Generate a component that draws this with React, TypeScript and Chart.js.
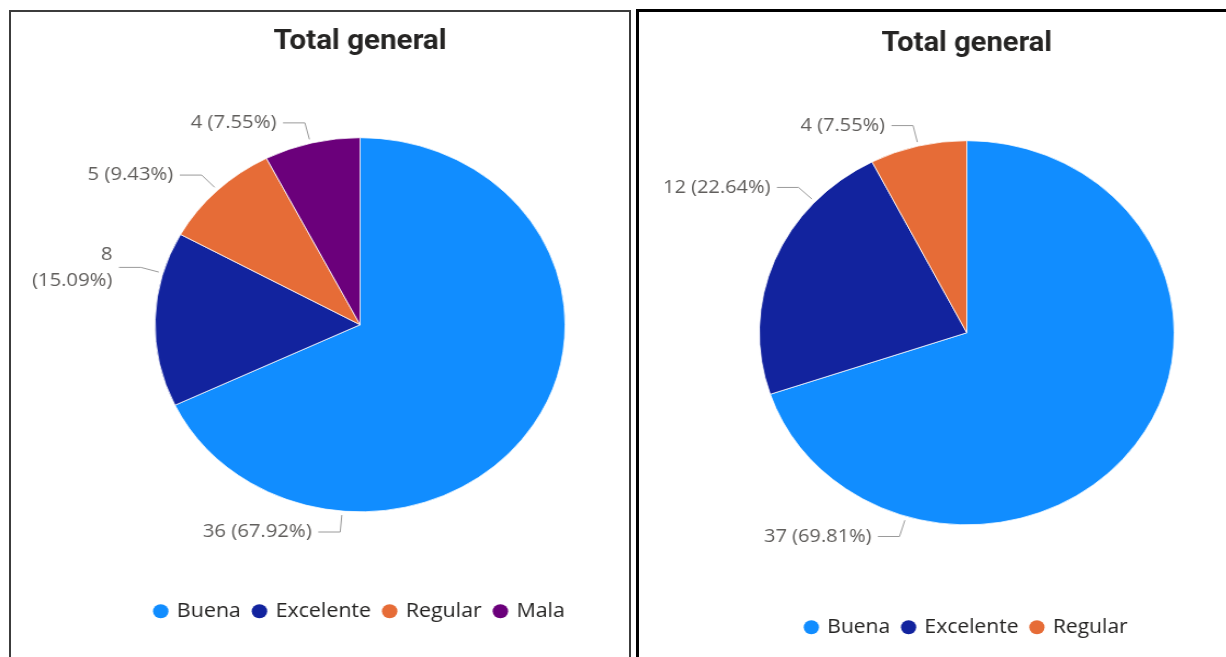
import React, { useEffect, useRef } from 'react';
import { Chart, registerables } from 'chart.js';

Chart.register(...registerables);

// ---------- data ----------
const CHART_TITLE = 'Total general';
const LEFT_CATEGORIES = ['Buena', 'Excelente', 'Regular', 'Mala'];
const LEFT_VALUES = [36, 8, 5, 4];
const RIGHT_CATEGORIES = ['Buena', 'Excelente', 'Regular'];
const RIGHT_VALUES = [37, 12, 4];

const CATEGORY_COLORS: Record<string, string> = {
  Buena: '#118DFF',
  Excelente: '#12239E',
  Regular: '#E66C37',
  Mala: '#6B007B',
};

// ---------- label layout (angle from 12 o'clock, clockwise, in degrees) ----------
const LEFT_LABEL_ANGLES = [185, 286, 316, 346];
const LEFT_LABEL_WRAP = [false, true, false, false];
const RIGHT_LABEL_ANGLES = [197, 313, 346.5];
const RIGHT_LABEL_WRAP = [false, false, false];

const LABEL_FONT = '"Open Sans", "Noto Sans", sans-serif';

const leaderLabelPlugin = {
  id: 'leaderLabels',
  afterDraw(chart: any, _args: any, opts: any) {
    const meta = chart.getDatasetMeta(0);
    const values = chart.data.datasets[0].data as number[];
    const total = values.reduce((a, b) => a + b, 0);
    const ctx = chart.ctx as CanvasRenderingContext2D;
    ctx.save();
    ctx.font = `${opts.fontSize}px ${LABEL_FONT}`;
    meta.data.forEach((arc: any, i: number) => {
      const { x, y, outerRadius } = arc.getProps(['x', 'y', 'outerRadius'], true);
      const a = ((opts.angles[i] - 90) * Math.PI) / 180;
      const cos = Math.cos(a);
      const sin = Math.sin(a);
      const side = cos < 0 ? -1 : 1;
      const p0 = { x: x + cos * (outerRadius + opts.inner), y: y + sin * (outerRadius + opts.inner) };
      const p1 = { x: x + cos * (outerRadius + opts.outer), y: y + sin * (outerRadius + opts.outer) };
      const p2 = { x: p1.x + side * opts.hLen, y: p1.y };
      ctx.strokeStyle = opts.lineColor;
      ctx.lineWidth = 1;
      ctx.beginPath();
      ctx.moveTo(p0.x, p0.y);
      ctx.lineTo(p1.x, p1.y);
      ctx.lineTo(p2.x, p2.y);
      ctx.stroke();
      const pct = ((values[i] / total) * 100).toFixed(2);
      const lines = opts.wrap[i] ? [`${values[i]}`, `(${pct}%)`] : [`${values[i]} (${pct}%)`];
      ctx.fillStyle = opts.color;
      ctx.textAlign = side < 0 ? 'right' : 'left';
      ctx.textBaseline = 'middle';
      const tx = p2.x + side * opts.gap;
      lines.forEach((t, k) => {
        ctx.fillText(t, tx, p2.y + (k - (lines.length - 1) / 2) * opts.lineHeight);
      });
    });
    ctx.restore();
  },
};

type PieProps = {
  categories: string[];
  values: number[];
  angles: number[];
  wrap: boolean[];
  width: number;
  height: number;
  scaleX: number;
  titleTop: number;
  titleBottom: number;
  legendOffset: number;
};

function PiePanel(props: PieProps) {
  const ref = useRef<HTMLCanvasElement | null>(null);
  useEffect(() => {
    if (!ref.current) return;
    const colors = props.categories.map((c) => CATEGORY_COLORS[c]);
    const chart = new Chart(ref.current, {
      type: 'pie',
      data: {
        labels: props.categories,
        datasets: [
          {
            data: props.values,
            backgroundColor: colors,
            borderColor: 'rgba(255,255,255,0.75)',
            borderWidth: 1,
          },
        ],
      },
      options: {
        animation: false,
        responsive: true,
        maintainAspectRatio: false,
        layout: { padding: 0 },
        plugins: {
          title: {
            display: true,
            text: CHART_TITLE,
            color: '#252423',
            font: { family: 'Roboto, "Noto Sans", sans-serif', size: 27, weight: 'bold' },
            padding: { top: props.titleTop, bottom: props.titleBottom },
          },
          legend: {
            display: true,
            position: 'bottom',
            title: {
              display: true,
              text: ' ',
              font: { size: 1 },
              padding: { top: props.legendOffset, bottom: 0 },
            },
            labels: {
              usePointStyle: true,
              boxWidth: 10,
              boxHeight: 10,
              padding: 12,
              color: '#252423',
              font: { family: LABEL_FONT, size: 19.5 },
              generateLabels: (ch: any) => {
                const ds = ch.data.datasets[0];
                return (ch.data.labels as string[]).map((l, i) => ({
                  text: l,
                  fillStyle: ds.backgroundColor[i],
                  strokeStyle: ds.backgroundColor[i],
                  lineWidth: 0,
                  pointStyle: 'circle',
                  hidden: false,
                  index: i,
                  fontColor: '#252423',
                }));
              },
            },
          },
          tooltip: { enabled: false },
          leaderLabels: {
            angles: props.angles,
            wrap: props.wrap,
            inner: 4,
            outer: 21,
            hLen: 20,
            gap: 6,
            fontSize: 18.5,
            lineHeight: 26,
            color: '#605E5C',
            lineColor: '#9a9a9a',
          },
        } as any,
      },
      plugins: [leaderLabelPlugin as any],
    });
    return () => chart.destroy();
  }, []);
  return (
    <div
      style={{
        position: 'absolute',
        left: 0,
        top: 0,
        width: props.width,
        height: props.height,
        transform: `scaleX(${props.scaleX})`,
        transformOrigin: '0 0',
      }}
    >
      <canvas ref={ref} />
    </div>
  );
}

export default function App() {
  return (
    <div style={{ position: 'fixed', inset: 0, overflow: 'hidden', background: '#fff' }}>
      <div
        style={{
          position: 'absolute',
          left: 9,
          top: 10,
          width: 622,
          height: 700,
          border: '2px solid #3c3c3c',
          boxSizing: 'border-box',
          overflow: 'hidden',
        }}
      >
        <PiePanel
          categories={LEFT_CATEGORIES}
          values={LEFT_VALUES}
          angles={LEFT_LABEL_ANGLES}
          wrap={LEFT_LABEL_WRAP}
          width={637}
          height={619}
          scaleX={1.096}
          titleTop={14}
          titleBottom={78.8}
          legendOffset={76}
        />
      </div>
      <div
        style={{
          position: 'absolute',
          left: 636,
          top: 9,
          width: 620,
          height: 700,
          border: '3px solid #000',
          boxSizing: 'border-box',
          overflow: 'hidden',
        }}
      >
        <PiePanel
          categories={RIGHT_CATEGORIES}
          values={RIGHT_VALUES}
          angles={RIGHT_LABEL_ANGLES}
          wrap={RIGHT_LABEL_WRAP}
          width={607}
          height={635}
          scaleX={1.08}
          titleTop={16}
          titleBottom={79.8}
          legendOffset={79}
        />
      </div>
    </div>
  );
}
